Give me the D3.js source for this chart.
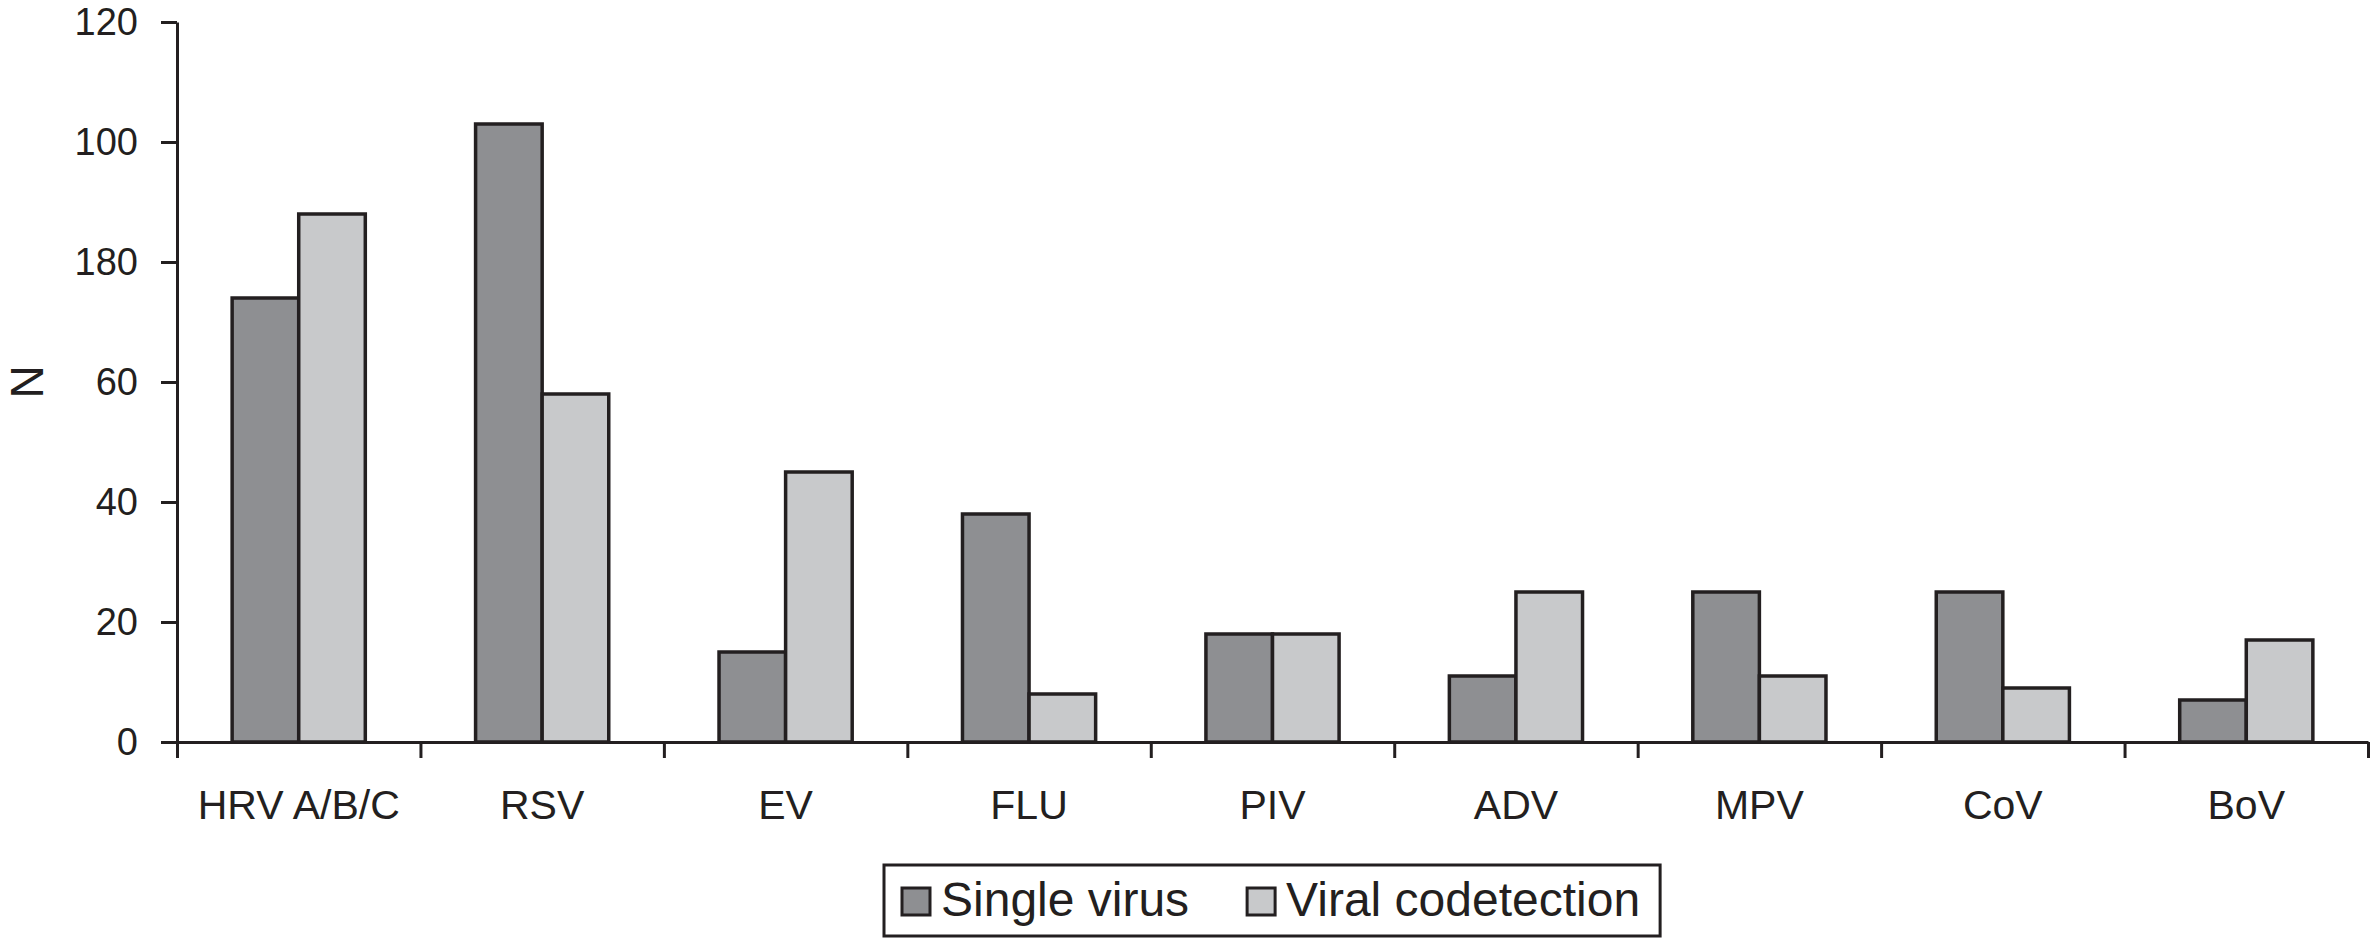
<!DOCTYPE html>
<html>
<head>
<meta charset="utf-8">
<script src="https://cdn.jsdelivr.net/npm/d3@7"></script>
<style>
body { margin: 0; background: #fff; }
text { font-family: "Liberation Sans", Arial, sans-serif; fill: #231f20; }
</style>
</head>
<body>
<svg id="chart"></svg>
<script>
// data
var viruses = ["HRV A/B/C", "RSV", "EV", "FLU", "PIV", "ADV", "MPV", "CoV", "BoV"];
var seriesNames = ["Single virus", "Viral codetection"];
var singleVirus = [74, 103, 15, 38, 18, 11, 25, 25, 7];
var codetection = [88, 58, 45, 8, 18, 25, 11, 9, 17];
var yTicks = [0, 20, 40, 60, 80, 100, 120];
var yTickLabels = ["0", "20", "40", "60", "180", "100", "120"];
var colors = ["#8e8f92", "#c8c9cb"];

var width = 2373;
var height = 939;
var plotLeft = 177, plotRight = 2368, plotTop = 22, plotBottom = 742;
var ink = "#231f20";

var svg = d3.select("#chart")
  .attr("width", width)
  .attr("height", height);

var rows = viruses.map(function(v, i) {
  return {name: v, values: [singleVirus[i], codetection[i]]};
});

var x = d3.scaleBand()
  .domain(viruses)
  .range([plotLeft, plotRight])
  .paddingInner(0.453)
  .paddingOuter(0.2265);

var xInner = d3.scaleBand()
  .domain(seriesNames)
  .range([0, x.bandwidth()]);

var y = d3.scaleLinear()
  .domain([0, 120])
  .range([plotBottom, plotTop]);

// bars
var groups = svg.selectAll("g.group")
  .data(rows)
  .enter()
  .append("g")
  .attr("class", "group")
  .attr("transform", function(d) { return "translate(" + x(d.name) + ",0)"; });

groups.selectAll("rect")
  .data(function(d) {
    return d.values.map(function(v, i) { return {series: seriesNames[i], value: v, idx: i}; });
  })
  .enter()
  .append("rect")
  .attr("x", function(d) { return xInner(d.series); })
  .attr("y", function(d) { return y(d.value); })
  .attr("width", xInner.bandwidth())
  .attr("height", function(d) { return plotBottom - y(d.value); })
  .attr("fill", function(d) { return colors[d.idx]; })
  .attr("stroke", ink)
  .attr("stroke-width", 3.5);

// y axis
var yAxis = svg.append("g")
  .attr("transform", "translate(" + plotLeft + ",0)")
  .call(d3.axisLeft(y)
    .tickValues(yTicks)
    .tickFormat(function(d, i) { return yTickLabels[i]; })
    .tickSize(16)
    .tickSizeOuter(0)
    .tickPadding(23));
yAxis.selectAll("text")
  .attr("font-size", 38)
  .attr("font-family", "Liberation Sans, Arial, sans-serif")
  .attr("fill", ink);
yAxis.selectAll("line, path").attr("stroke", ink).attr("stroke-width", 3);

// x axis: boundary ticks
var xBound = d3.scaleLinear().domain([0, viruses.length]).range([plotLeft, plotRight]);
var xTickAxis = svg.append("g")
  .attr("transform", "translate(0," + plotBottom + ")")
  .call(d3.axisBottom(xBound)
    .ticks(viruses.length)
    .tickFormat("")
    .tickSize(16)
    .tickSizeOuter(0));
xTickAxis.selectAll("line, path").attr("stroke", ink).attr("stroke-width", 3);

// x axis: category labels
var xLabelAxis = svg.append("g")
  .attr("transform", "translate(0," + plotBottom + ")")
  .call(d3.axisBottom(x).tickSize(0).tickPadding(48));
xLabelAxis.select(".domain").remove();
xLabelAxis.selectAll("text")
  .attr("font-size", 41)
  .attr("font-family", "Liberation Sans, Arial, sans-serif")
  .attr("fill", ink);

// y axis title
svg.append("text")
  .attr("transform", "translate(43," + ((plotTop + plotBottom) / 2) + ") rotate(-90)")
  .attr("text-anchor", "middle")
  .attr("font-size", 46)
  .text("N");

// legend
var legend = svg.append("g");
var box = legend.append("rect")
  .attr("fill", "#fff")
  .attr("stroke", ink)
  .attr("stroke-width", 3);

var lx = 902;
seriesNames.forEach(function(name, i) {
  legend.append("rect")
    .attr("x", lx)
    .attr("y", 888)
    .attr("width", 28)
    .attr("height", 27)
    .attr("fill", colors[i])
    .attr("stroke", ink)
    .attr("stroke-width", 3);
  var t = legend.append("text")
    .attr("x", lx + 39)
    .attr("y", 916)
    .attr("font-size", 48)
    .text(name);
  lx = lx + 39 + t.node().getComputedTextLength() + 58;
});
box.attr("x", 884)
  .attr("y", 865)
  .attr("width", lx - 58 + 20 - 884)
  .attr("height", 71);
</script>
</body>
</html>
